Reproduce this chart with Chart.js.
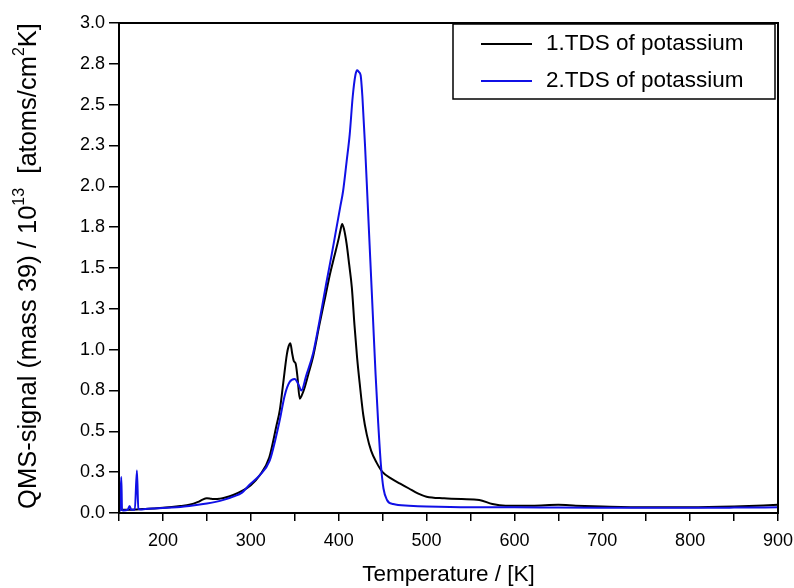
<!DOCTYPE html>
<html>
<head>
<meta charset="utf-8">
<script src="https://cdn.jsdelivr.net/npm/chart.js@4"></script>
<style>
  html, body { margin: 0; padding: 0; background: #fff; }
  #wrap { width: 794px; height: 588px; }
</style>
</head>
<body>
<div id="wrap"><canvas id="c" width="794" height="588"></canvas></div>
<script>
// Temperature (K) and QMS signal (10^13 atoms/cm^2K) for the two desorption runs
const temp1 = [152,160,170,180,190,200,210,220,230,240,245,250,255,260,265,270,280,290,300,310,321,329,333,337,341,343,345,347,349,351,353,355.7,358,361.4,366,371,378,385,390,395,400,402,404,406,409,412,415,418,421,424,428,432,437,443,450,460,470,480,490,500,520,540,560,575,590,620,650,670,700,750,800,850,900];
const signal1 = [0.02,0.02,0.022,0.025,0.028,0.032,0.037,0.043,0.05,0.068,0.082,0.09,0.087,0.085,0.088,0.093,0.11,0.135,0.17,0.23,0.34,0.53,0.63,0.80,0.97,1.02,1.04,0.98,0.93,0.915,0.84,0.70,0.72,0.77,0.86,0.96,1.15,1.33,1.46,1.57,1.68,1.73,1.77,1.74,1.65,1.52,1.38,1.15,0.95,0.79,0.60,0.48,0.38,0.31,0.25,0.21,0.18,0.15,0.12,0.10,0.09,0.085,0.08,0.055,0.045,0.045,0.05,0.045,0.04,0.035,0.035,0.04,0.05];

const temp2 = [151,152.6,153.5,155,160,162,164,168,170.4,172,175,180,190,200,210,220,230,240,250,260,270,280,290,298,310,321.5,328,333,338.6,344,350,354,357.6,363,371,378,386,392,397,402,405,409,412.6,416,419,421,423,425,427,430,433,436,439,442,445,448,451,455,462,480,500,550,600,650,700,750,800,850,900];
const signal2 = [0.01,0.22,0.02,0.015,0.02,0.043,0.02,0.02,0.26,0.025,0.022,0.025,0.028,0.03,0.033,0.037,0.043,0.05,0.058,0.068,0.082,0.1,0.125,0.17,0.23,0.32,0.45,0.57,0.72,0.80,0.82,0.79,0.75,0.84,0.98,1.17,1.41,1.58,1.73,1.88,1.97,2.15,2.32,2.55,2.68,2.71,2.70,2.68,2.55,2.25,1.9,1.55,1.2,0.85,0.55,0.3,0.15,0.08,0.055,0.045,0.04,0.035,0.035,0.033,0.032,0.032,0.032,0.033,0.035];

const seriesNames = ['1.TDS of potassium', '2.TDS of potassium'];

// Axis ticks and their printed labels
const xTickValues = [150,200,250,300,350,400,450,500,550,600,650,700,750,800,850,900];
const xTickLabels = ['','200','','300','','400','','500','','600','','700','','800','','900'];
const yTickValues = [0,0.25,0.5,0.75,1,1.25,1.5,1.75,2,2.25,2.5,2.75,3];
const yTickLabels = ['0.0','0.3','0.5','0.8','1.0','1.3','1.5','1.8','2.0','2.3','2.5','2.8','3.0'];

// Vertical axis title, split into normal and superscript runs
const yTitleRuns = [
  { text: 'QMS-signal (mass 39) / 10', sup: false },
  { text: '13', sup: true },
  { text: '  [atoms/cm', sup: false },
  { text: '2', sup: true },
  { text: 'K]', sup: false }
];

const FONT = "Arial, 'Liberation Sans', sans-serif";

function toPoints(xs, ys) { return xs.map((x, i) => ({ x: x, y: ys[i] })); }

// Closed frame around the plot area
const framePlugin = {
  id: 'frame',
  afterDatasetsDraw(chart) {
    const { ctx, chartArea: a } = chart;
    ctx.save();
    ctx.strokeStyle = '#000';
    ctx.lineWidth = 2;
    ctx.strokeRect(a.left, a.top, a.right - a.left, a.bottom - a.top);
    ctx.restore();
  }
};

// Rotated y-axis title with raised exponents
const yTitlePlugin = {
  id: 'yTitle',
  afterDraw(chart) {
    const { ctx, chartArea: a } = chart;
    const big = '25.5px ' + FONT, small = '16px ' + FONT;
    ctx.save();
    let total = 0;
    yTitleRuns.forEach(r => { ctx.font = r.sup ? small : big; total += ctx.measureText(r.text).width; });
    ctx.translate(29, (a.top + a.bottom) / 2 - 2);
    ctx.rotate(-Math.PI / 2);
    ctx.fillStyle = '#000';
    ctx.textBaseline = 'middle';
    let x = -total / 2;
    yTitleRuns.forEach(r => {
      ctx.font = r.sup ? small : big;
      ctx.fillText(r.text, x, r.sup ? -9 : 0);
      x += ctx.measureText(r.text).width;
    });
    ctx.restore();
  }
};

// Boxed legend in the upper right corner
const boxLegend = {
  id: 'boxLegend',
  afterDraw(chart) {
    const { ctx, chartArea: a } = chart;
    const x0 = a.right - 325, y0 = a.top + 1, w = 322, h = 75;
    ctx.save();
    ctx.fillStyle = '#fff';
    ctx.fillRect(x0, y0, w, h);
    ctx.strokeStyle = '#000';
    ctx.lineWidth = 1.5;
    ctx.strokeRect(x0, y0, w, h);
    ctx.font = '22.5px ' + FONT;
    ctx.textBaseline = 'middle';
    chart.data.datasets.forEach((ds, i) => {
      const yy = y0 + 20 + i * 37;
      ctx.strokeStyle = ds.borderColor;
      ctx.lineWidth = 2;
      ctx.beginPath();
      ctx.moveTo(x0 + 28, yy);
      ctx.lineTo(x0 + 79, yy);
      ctx.stroke();
      ctx.fillStyle = '#000';
      ctx.fillText(ds.label, x0 + 93, yy);
    });
    ctx.restore();
  }
};

new Chart(document.getElementById('c'), {
  type: 'line',
  data: {
    datasets: [
      { label: seriesNames[0], data: toPoints(temp1, signal1), borderColor: '#000000', order: 1 },
      { label: seriesNames[1], data: toPoints(temp2, signal2), borderColor: '#1010e6', order: 0 }
    ]
  },
  options: {
    responsive: false,
    animation: false,
    layout: { padding: { left: 0, top: 23, right: 16, bottom: 0 } },
    elements: {
      point: { radius: 0 },
      line: { borderWidth: 2, cubicInterpolationMode: 'monotone', fill: false }
    },
    plugins: { legend: { display: false }, tooltip: { enabled: false } },
    scales: {
      x: {
        type: 'linear',
        min: 150, max: 900,
        afterFit(s) { s.height = 75; s.paddingLeft = 0; s.paddingRight = 0; },
        afterBuildTicks(s) { s.ticks = xTickValues.map(v => ({ value: v })); },
        border: { display: false },
        grid: { drawOnChartArea: false, drawTicks: true, tickLength: 8, color: '#000', lineWidth: 1.5 },
        ticks: {
          autoSkip: false, maxRotation: 0, padding: 9, color: '#000',
          font: { family: FONT, size: 18 },
          callback: (v, i) => xTickLabels[i]
        },
        title: {
          display: true, text: 'Temperature / [K]', color: '#000',
          font: { family: FONT, size: 22.5 }, padding: { top: 0, bottom: 0 }
        }
      },
      y: {
        type: 'linear',
        min: 0, max: 3,
        afterFit(s) { s.width = 119; s.paddingTop = 0; s.paddingBottom = 0; },
        afterBuildTicks(s) { s.ticks = yTickValues.map(v => ({ value: v })); },
        border: { display: false },
        grid: { drawOnChartArea: false, drawTicks: true, tickLength: 10, color: '#000', lineWidth: 1.5 },
        ticks: {
          autoSkip: false, padding: 4, color: '#000',
          font: { family: FONT, size: 18 },
          callback: (v, i) => yTickLabels[i]
        }
      }
    }
  },
  plugins: [framePlugin, yTitlePlugin, boxLegend]
});
</script>
</body>
</html>
